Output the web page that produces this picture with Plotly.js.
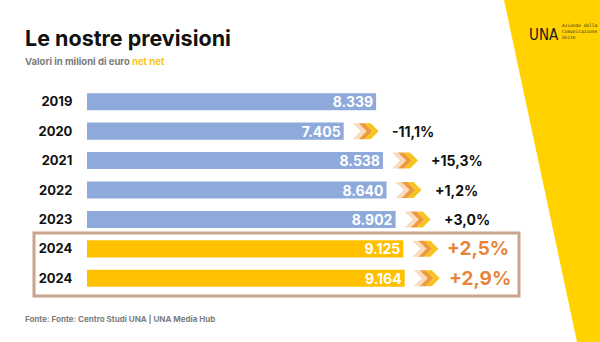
<!DOCTYPE html>
<html>
<head>
<meta charset="utf-8">
<script src="https://cdn.plot.ly/plotly-3.0.1.min.js"></script>
<style>html,body{margin:0;padding:0;background:#fff;}#chart{width:600px;height:342px;}</style>
</head>
<body>
<div id="chart"></div>
<script>
// ---- data ----
const years = ["2019", "2020", "2021", "2022", "2023", "2024", "2024"];
const values = [8339, 7405, 8538, 8640, 8902, 9125, 9164];
const valueLabels = ["8.339", "7.405", "8.538", "8.640", "8.902", "9.125", "9.164"];
const changes = ["", "-11,1%", "+15,3%", "+1,2%", "+3,0%", "+2,5%", "+2,9%"];
const isForecast = [false, false, false, false, false, true, true];
const logoLines = ["Aziende della", "Comunicazione", "Unite"];

// ---- style / layout helpers ----
const FW = 600, FH = 342;
const ml = 87, mr = 97, mt = 87, mb = 49;
const W = FW - ml - mr, H = FH - mt - mb;
const px2x = p => (p - ml) / W;
const py2y = p => 1 - (p - mt) / H;
const FONT = "Inter, 'Open Sans', sans-serif";
const BLUE = "#8eaadb", GOLD = "#ffc000", ORANGE = "#e8843a";

const idx = years.map((_, i) => i);

const bar = {
  type: "bar", orientation: "h",
  x: values, y: idx, width: 0.58,
  marker: { color: isForecast.map(f => f ? GOLD : BLUE) },
  text: valueLabels, textposition: "inside", insidetextanchor: "end",
  constraintext: "none",
  textfont: { color: "#ffffff", size: 14, family: FONT, weight: 700 },
  hoverinfo: "none", cliponaxis: false
};

const shapes = [];
// yellow brand band on the right
shapes.push({
  type: "path", xref: "paper", yref: "paper", layer: "below",
  path: `M ${px2x(504)},${py2y(0)} L ${px2x(600)},${py2y(0)} L ${px2x(600)},${py2y(342)} L ${px2x(577)},${py2y(342)} Z`,
  fillcolor: "#ffd200", line: { width: 0 }
});
// box around the forecast rows
shapes.push({
  type: "rect", xref: "paper", yref: "paper",
  x0: px2x(34), x1: px2x(519), y0: py2y(233), y1: py2y(296),
  line: { color: "#c9a38c", width: 3 }, fillcolor: "rgba(0,0,0,0)"
});
// chevrons after each growth bar
const chevColors = ["#f8dcc0", "#ef9b3b", "#f7c31c"];
const chevOff = [9, 15, 21];
const chev = dx => `M ${dx},-8 L ${dx + 6},-8 L ${dx + 14},0 L ${dx + 6},8 L ${dx},8 L ${dx + 8},0 Z`;
values.forEach((v, i) => {
  if (!changes[i]) return;
  chevOff.forEach((o, k) => {
    shapes.push({
      type: "path", xref: "x", yref: "y", xsizemode: "pixel", ysizemode: "pixel",
      xanchor: v, yanchor: i, path: chev(o),
      fillcolor: chevColors[k], line: { width: 0 }
    });
  });
});

const annotations = [];
values.forEach((v, i) => {
  if (!changes[i]) return;
  annotations.push({
    x: v, y: i, xref: "x", yref: "y", xanchor: "left", yanchor: "middle",
    xshift: isForecast[i] ? 42 : 46, showarrow: false, text: changes[i],
    font: isForecast[i] ? { color: ORANGE, size: 19, family: FONT, weight: 700 }
                        : { color: "#111111", size: 14, family: FONT, weight: 700 }
  });
});
// title, subtitle, source
annotations.push({
  xref: "paper", yref: "paper", x: px2x(23), y: py2y(38), xanchor: "left", yanchor: "middle",
  showarrow: false, text: "Le nostre previsioni",
  font: { size: 21.5, color: "#111111", family: FONT, weight: 700 }
});
annotations.push({
  xref: "paper", yref: "paper", x: px2x(23), y: py2y(61), xanchor: "left", yanchor: "middle",
  showarrow: false, text: "Valori in milioni di euro <span style='color:#f5c518'>net net</span>",
  font: { size: 9.5, color: "#7a7a7a", family: FONT, weight: 700 }
});
annotations.push({
  xref: "paper", yref: "paper", x: px2x(23), y: py2y(319), xanchor: "left", yanchor: "middle",
  showarrow: false, text: "Fonte: Fonte: Centro Studi UNA | UNA Media Hub",
  font: { size: 8, color: "#7d7d7d", family: FONT, weight: 700 }
});
// logo
annotations.push({
  xref: "paper", yref: "paper", x: px2x(527), y: py2y(35), xanchor: "left", yanchor: "middle",
  showarrow: false, text: "UNA",
  font: { size: 15, color: "#1a1a1a", family: "'Liberation Sans Narrow', 'DejaVu Sans Condensed', sans-serif" }
});
logoLines.forEach((t, k) => {
  annotations.push({
    xref: "paper", yref: "paper", x: px2x(560), y: py2y(25 + k * 6), xanchor: "left", yanchor: "middle",
    showarrow: false, text: t,
    font: { size: 4.5, color: "#333333", family: "'DejaVu Sans Mono', monospace" }
  });
});

const layout = {
  width: FW, height: FH,
  margin: { l: ml, r: mr, t: mt, b: mb, pad: 0 },
  paper_bgcolor: "#ffffff", plot_bgcolor: "rgba(0,0,0,0)",
  showlegend: false,
  xaxis: { range: [0, 12000], visible: false, fixedrange: true },
  yaxis: {
    range: [6.5, -0.5], tickvals: idx, ticktext: years,
    ticks: "outside", ticklen: 11, tickcolor: "rgba(0,0,0,0)",
    showgrid: false, zeroline: false, showline: false,
    tickfont: { size: 13, color: "#111111", family: FONT, weight: 700 },
    fixedrange: true
  },
  shapes: shapes,
  annotations: annotations,
  font: { family: FONT }
};

Plotly.newPlot("chart", [bar], layout, { displayModeBar: false, staticPlot: true });
</script>
</body>
</html>
